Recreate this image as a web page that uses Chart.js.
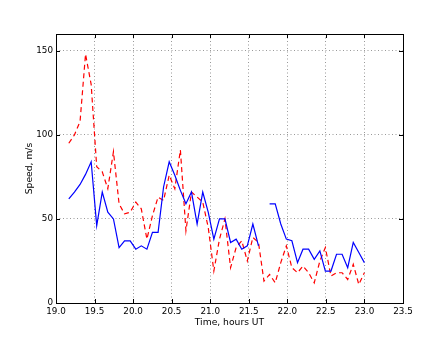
<!DOCTYPE html>
<html>
<head>
<meta charset="utf-8">
<script src="https://cdn.jsdelivr.net/npm/chart.js@4"></script>
<style>
  html, body { margin: 0; padding: 0; background: #ffffff; }
  #wrap { width: 447px; height: 337px; }
</style>
</head>
<body>
<div id="wrap"><canvas id="c" width="447" height="337"></canvas></div>
<script>
// Time, hours UT
const times = [19.166, 19.239, 19.312, 19.383, 19.456, 19.528, 19.600, 19.672, 19.745, 19.818,
               19.889, 19.962, 20.035, 20.106, 20.179, 20.251, 20.324, 20.395, 20.468, 20.541,
               20.613, 20.685, 20.757, 20.830, 20.903, 20.974, 21.047, 21.120, 21.191, 21.264,
               21.336, 21.409, 21.481, 21.553, 21.626, 21.697, 21.770, 21.843, 21.915, 21.987,
               22.059, 22.132, 22.203, 22.276, 22.349, 22.422, 22.493, 22.566, 22.638, 22.710,
               22.783, 22.855, 22.927, 22.999];
// Speed, m/s (blue solid)
const blueSpeed = [62, 66, 70.5, 76.5, 84, 46, 66, 54, 50, 33,
                   37, 37, 32, 34, 32, 42, 42, 69, 84, 76,
                   67, 59, 66, 47, 66, 54, 38, 50, 50, 36,
                   38, 32, 34, 47, 34, null, 59, 59, 47, 38,
                   37, 24, 32, 32, 26, 31, 19, 19, 29, 29,
                   21, 36, 30, 24];
// Speed, m/s (red dashed)
const redSpeed = [95, 100, 108, 148, 130, 81, 78, 68, 90, 59,
                  53, 54, 60, 56, 38, 52, 63, 61, 76, 68,
                  91, 43, 66, 63, 60, 45, 19, 38, 50, 21,
                  33, 37, 25, 39, 36, 13, 17, 12, 24, 34,
                  21, 18, 22, 18, 12, 25, 33, 16, 18, 18,
                  14, 23, 11, 18];
const xTicks = [19.0, 19.5, 20.0, 20.5, 21.0, 21.5, 22.0, 22.5, 23.0, 23.5];
const yTicks = [0, 50, 100, 150];

const toPts = (arr) => times.map((t, i) => ({x: t, y: arr[i]}));

const frame = {
  id: 'frame',
  afterDraw(chart) {
    const {ctx, chartArea: a, scales} = chart;
    ctx.save();
    ctx.strokeStyle = '#000';
    ctx.lineWidth = 1;
    ctx.beginPath();
    const tl = 4;
    scales.x.ticks.forEach(t => {
      const px = Math.round(scales.x.getPixelForValue(t.value)) + 0.5;
      ctx.moveTo(px, a.bottom); ctx.lineTo(px, a.bottom - tl);
      ctx.moveTo(px, a.top); ctx.lineTo(px, a.top + tl);
    });
    scales.y.ticks.forEach(t => {
      const py = Math.round(scales.y.getPixelForValue(t.value)) + 0.5;
      ctx.moveTo(a.left, py); ctx.lineTo(a.left + tl, py);
      ctx.moveTo(a.right, py); ctx.lineTo(a.right - tl, py);
    });
    ctx.stroke();
    ctx.strokeRect(Math.round(a.left) + 0.5, Math.round(a.top) + 0.5,
                   Math.round(a.right - a.left), Math.round(a.bottom - a.top));
    ctx.restore();
  },
  beforeDraw(chart) {
    const {ctx} = chart;
    ctx.save();
    ctx.fillStyle = '#fff';
    ctx.fillRect(0, 0, chart.width, chart.height);
    ctx.restore();
  }
};

new Chart(document.getElementById('c'), {
  type: 'line',
  data: {
    datasets: [
      {
        data: toPts(blueSpeed),
        borderColor: '#0000ff',
        borderWidth: 1.2,
        pointRadius: 0,
        tension: 0,
        spanGaps: false,
        fill: false
      },
      {
        data: toPts(redSpeed),
        borderColor: '#ff0000',
        borderWidth: 1.2,
        borderDash: [5, 3.5],
        pointRadius: 0,
        tension: 0,
        fill: false
      }
    ]
  },
  options: {
    responsive: false,
    animation: false,
    devicePixelRatio: 1,
    layout: { padding: { left: 0, right: 44, top: 34, bottom: 0 } },
    plugins: { legend: { display: false }, tooltip: { enabled: false } },
    scales: {
      x: {
        type: 'linear',
        min: 19, max: 23.5,
        afterBuildTicks: (s) => { s.ticks = xTicks.map(v => ({value: v})); },
        afterFit: (s) => { s.height = 34; },
        ticks: {
          color: '#000',
          font: { family: 'DejaVu Sans', size: 8.8 },
          padding: 3,
          maxRotation: 0,
          autoSkip: false,
          callback: (v) => Number(v).toFixed(1)
        },
        grid: {
          drawTicks: false,
          color: 'rgba(0,0,0,0.5)',
          lineWidth: 0.8,
          tickBorderDash: [1, 2.5]
        },
        border: { display: false, dash: [1, 2.5] },
        title: {
          display: true,
          text: 'Time, hours UT',
          color: '#000',
          font: { family: 'DejaVu Sans', size: 9.2 },
          padding: { top: 0, bottom: 9 }
        }
      },
      y: {
        min: 0, max: 160,
        afterBuildTicks: (s) => { s.ticks = yTicks.map(v => ({value: v})); },
        afterFit: (s) => { s.width = 56; },
        ticks: {
          color: '#000',
          font: { family: 'DejaVu Sans', size: 8.8 },
          padding: 3,
          callback: (v) => String(v)
        },
        grid: {
          drawTicks: false,
          color: 'rgba(0,0,0,0.5)',
          lineWidth: 0.8
        },
        border: { display: false, dash: [1, 2.5] },
        title: {
          display: true,
          text: 'Speed, m/s',
          color: '#000',
          font: { family: 'DejaVu Sans', size: 9.2 },
          padding: { top: 24, bottom: 0 }
        }
      }
    }
  },
  plugins: [frame]
});
</script>
</body>
</html>
